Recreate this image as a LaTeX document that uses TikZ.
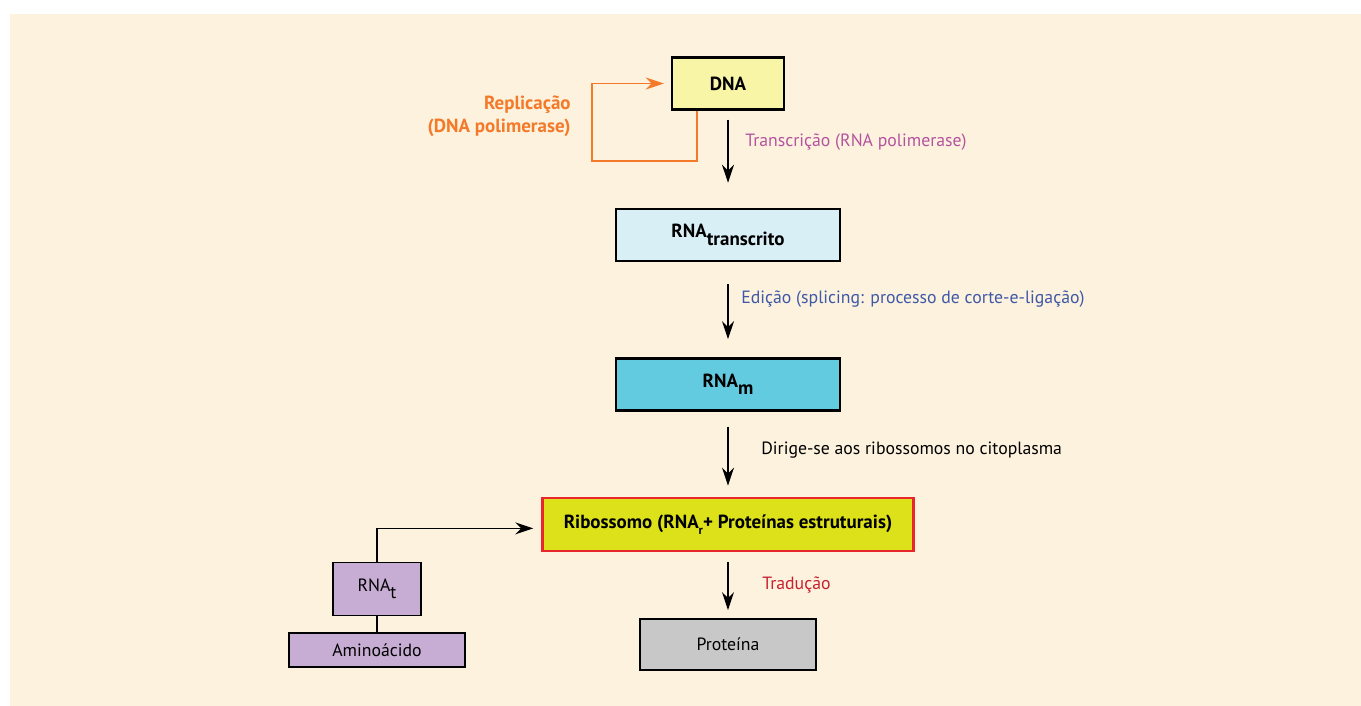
\documentclass[tikz,border=0pt]{standalone}
\usepackage{fontspec}
\setmainfont{PT Sans}
\usepackage{xcolor}
\usetikzlibrary{arrows.meta, positioning}
\definecolor{corFundo}{HTML}{FCF2DE}
\definecolor{corDNA}{HTML}{F8F5A6}
\definecolor{corTranscrito}{HTML}{D8EFF6}
\definecolor{corMensageiro}{HTML}{63CBDF}
\definecolor{corRibossomo}{HTML}{DDE11A}
\definecolor{corBordaRib}{HTML}{E8262C}
\definecolor{corProteina}{HTML}{C8C8C8}
\definecolor{corLilas}{HTML}{C7ACD3}
\definecolor{corLaranja}{HTML}{F47A2A}
\definecolor{corMagenta}{HTML}{B5539F}
\definecolor{corAzul}{HTML}{3F58A7}
\definecolor{corVermelho}{HTML}{C8202F}

\newcommand{\subdesce}[1]{\raisebox{-0.8ex}{#1}}

\begin{document}
\begin{tikzpicture}[
    font=\fontsize{10.1}{12}\selectfont,
    negrito/.style={font=\fontsize{10.8}{13}\selectfont\bfseries},
    caixa/.style={
        draw, line width=1.4pt,
        minimum height=1.04cm,
        align=center, inner sep=2pt
    },
    seta/.style={-{Stealth[length=0.36cm, width=0.24cm]}, line width=0.85pt},
    rotulo/.style={anchor=west, inner sep=0pt}
]

% fundo
\useasboundingbox (0,0) rectangle (27.22,-14.12);
\fill[corFundo] (0.2,-0.28) rectangle (27.22,-14.12);

\node[caixa, negrito, fill=corDNA, minimum width=2.24cm] (DNA) at (14.56,-1.67)
    {DNA};

\node[caixa, negrito, fill=corTranscrito, minimum width=4.48cm, below=1.94cm of DNA] (RNAtr)
    {RNA\subdesce{transcrito}};

\node[caixa, negrito, fill=corMensageiro, minimum width=4.48cm, below=1.90cm of RNAtr] (RNAm)
    {RNA\subdesce{m}};

\node[caixa, negrito, fill=corRibossomo, draw=corBordaRib, minimum width=7.42cm, minimum height=1.06cm,
      below=1.70cm of RNAm] (Rib)
    {Ribossomo (RNA\raisebox{-0.6ex}{\scriptsize r}+ Proteínas estruturais)};

\node[caixa, fill=corProteina, line width=1.1pt, minimum width=3.52cm, minimum height=1.02cm,
      below=1.32cm of Rib] (Prot)
    {Proteína};

\node[caixa, fill=corLilas, line width=1.1pt, minimum width=1.76cm, minimum height=1.06cm] (RNAt)
    at (7.54,-11.78) {RNA\subdesce{t}};

\node[caixa, fill=corLilas, line width=1.1pt, minimum width=3.52cm, minimum height=0.68cm,
      below=0.32cm of RNAt] (Amino)
    {Aminoácido};

% setas principais
\draw[seta] ([yshift=-0.18cm]DNA.south) -- ([yshift=0.5cm]RNAtr.north);
\draw[seta] ([yshift=-0.44cm]RNAtr.south) -- ([yshift=0.36cm]RNAm.north);
\draw[seta] ([yshift=-0.3cm]RNAm.south) -- ([yshift=0.22cm]Rib.north);
\draw[seta] ([yshift=-0.2cm]Rib.south) -- ([yshift=0.16cm]Prot.north);

% replicacao
\draw[seta, color=corLaranja, line width=1.1pt]
    ([xshift=-0.62cm]DNA.south) -- ++(0,-1.0) -| ([xshift=-1.58cm]DNA.west)
    -- ([xshift=-0.14cm]DNA.west);

% RNAt
\draw[seta] (RNAt.north) |- ([xshift=-0.16cm, yshift=-0.08cm]Rib.west);
\draw[line width=0.85pt] (RNAt.south) -- (Amino.north);

% rotulos
\node[rotulo, text=corMagenta] at (14.9,-2.84) {Transcrição (RNA polimerase)};
\node[rotulo, text=corAzul] at (14.82,-5.98) {Edição (splicing: processo de corte-e-ligação)};
\node[rotulo] at (15.22,-9.0) {Dirige-se aos ribossomos no citoplasma};
\node[rotulo, text=corVermelho] at (15.24,-11.7) {Tradução};
\node[anchor=east, inner sep=0pt, align=right, text=corLaranja, negrito]
    at (11.42,-2.32) {Replicação\\(DNA polimerase)};

\end{tikzpicture}
\end{document}
